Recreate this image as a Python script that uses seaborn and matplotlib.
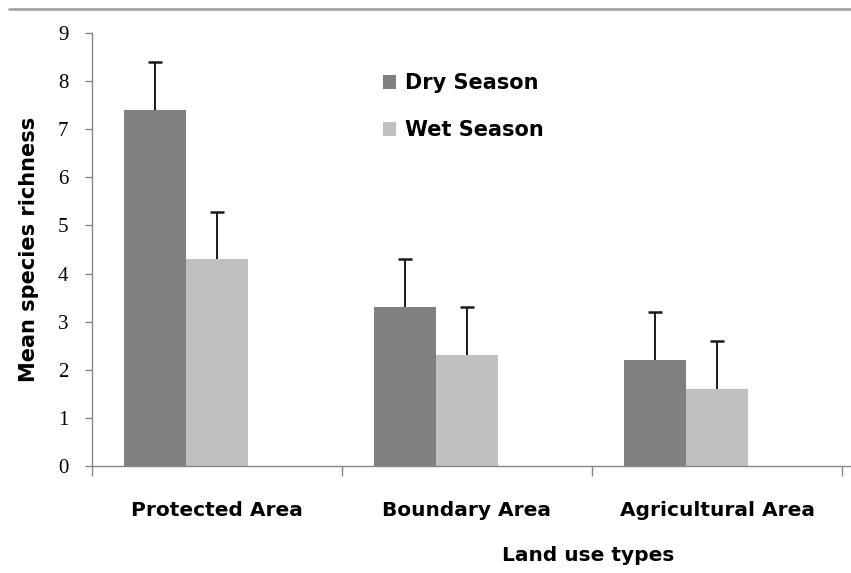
import matplotlib
matplotlib.use("Agg")
import matplotlib.pyplot as plt
from matplotlib.lines import Line2D
from matplotlib.patches import Patch
import seaborn as sns
import pandas as pd

# Mean species richness by land use type and season (upper error = 1 SD)
land_use = ["Protected Area", "Boundary Area", "Agricultural Area"]
dry_mean = [7.4, 3.3, 2.2]
wet_mean = [4.3, 2.3, 1.6]
dry_err = [1.0, 1.0, 1.0]
wet_err = [0.97, 1.0, 1.0]
seasons = ["Dry Season", "Wet Season"]
season_colors = ["#808080", "#c0c0c0"]

sns.set_theme(style="white")
plt.rcParams["font.family"] = ["DejaVu Sans"]
plt.rcParams["text.color"] = "black"
plt.rcParams["axes.labelcolor"] = "black"
plt.rcParams["xtick.color"] = "black"
plt.rcParams["ytick.color"] = "black"

rows = []
for i, cat in enumerate(land_use):
    rows.append({"land": cat, "season": seasons[0], "mean": dry_mean[i], "err": dry_err[i]})
    rows.append({"land": cat, "season": seasons[1], "mean": wet_mean[i], "err": wet_err[i]})
    # empty third slot keeps each season pair shifted left within its category
    rows.append({"land": cat, "season": "_blank", "mean": 0.0, "err": 0.0})
df = pd.DataFrame(rows)

fig = plt.figure(figsize=(8.51, 5.73), dpi=100)
ax = fig.add_axes([92 / 851, 107 / 573, (850 - 92) / 851, (466 - 33) / 573])

palette = {seasons[0]: season_colors[0], seasons[1]: season_colors[1], "_blank": "white"}
sns.barplot(data=df, x="land", y="mean", hue="season", order=land_use,
            hue_order=seasons + ["_blank"], palette=palette, width=0.744,
            gap=0, saturation=1, errorbar=None, linewidth=0, ax=ax, legend=False)

# upward-only error bars (stem + top cap) from each drawn bar
errs = {(r.land, r.season): r.err for r in df.itertuples()}
cap_half = 0.027
for season, cont in zip(seasons, ax.containers[:2]):
    for cat, bar in zip(land_use, cont):
        xc = bar.get_x() + bar.get_width() / 2
        h = bar.get_height()
        top = h + errs[(cat, season)]
        ax.vlines(xc, h, top, colors="#1a1a1a", linewidth=1.4, zorder=3)
        ax.hlines(top, xc - cap_half, xc + cap_half, colors="#1a1a1a", linewidth=1.8, zorder=3)

ax.set_ylim(0, 9)
ax.set_xlim(-0.5, 2.5 + 8 / 250)
ax.set_yticks(range(0, 10))
ax.set_yticklabels([str(v) for v in range(0, 10)], family="Liberation Serif", fontsize=15)

# category labels centred, tick marks on category boundaries
ax.set_xticks([0, 1, 2])
ax.set_xticklabels(land_use, fontsize=14.5, fontweight="bold")
ax.set_xticks([-0.5, 0.5, 1.5, 2.5], minor=True)
ax.tick_params(axis="x", which="major", length=0, pad=25)
ax.tick_params(axis="x", which="minor", length=7, width=1, color="#868686", direction="out", bottom=True)
ax.tick_params(axis="y", length=5, width=1, color="#868686", direction="out", left=True, pad=12)

for side in ["top", "right"]:
    ax.spines[side].set_visible(False)
for side in ["left", "bottom"]:
    ax.spines[side].set_color("#868686")
    ax.spines[side].set_linewidth(1.0)

ax.set_ylabel("Mean species richness", fontsize=15, fontweight="bold")
ax.yaxis.set_label_coords(-0.07, 0.5)
ax.set_xlabel("Land use types", fontsize=14.5, fontweight="bold")
ax.xaxis.set_label_coords((588 - 92) / (850 - 92), -0.185)

handles = [Patch(facecolor=c, edgecolor="none") for c in season_colors]
leg = ax.legend(handles, seasons, loc="upper left", bbox_to_anchor=(0.359, 0.95),
                frameon=False, handlelength=0.65, handleheight=0.65, handletextpad=0.4,
                labelspacing=1.3, prop={"weight": "bold", "size": 15})

# thin grey rule across the top of the figure
fig.add_artist(Line2D([0.01, 1.0], [1 - 9 / 573, 1 - 9 / 573], transform=fig.transFigure,
                      color="#a6a6a6", linewidth=2))

fig.savefig("out.png", dpi=100, facecolor="white")
